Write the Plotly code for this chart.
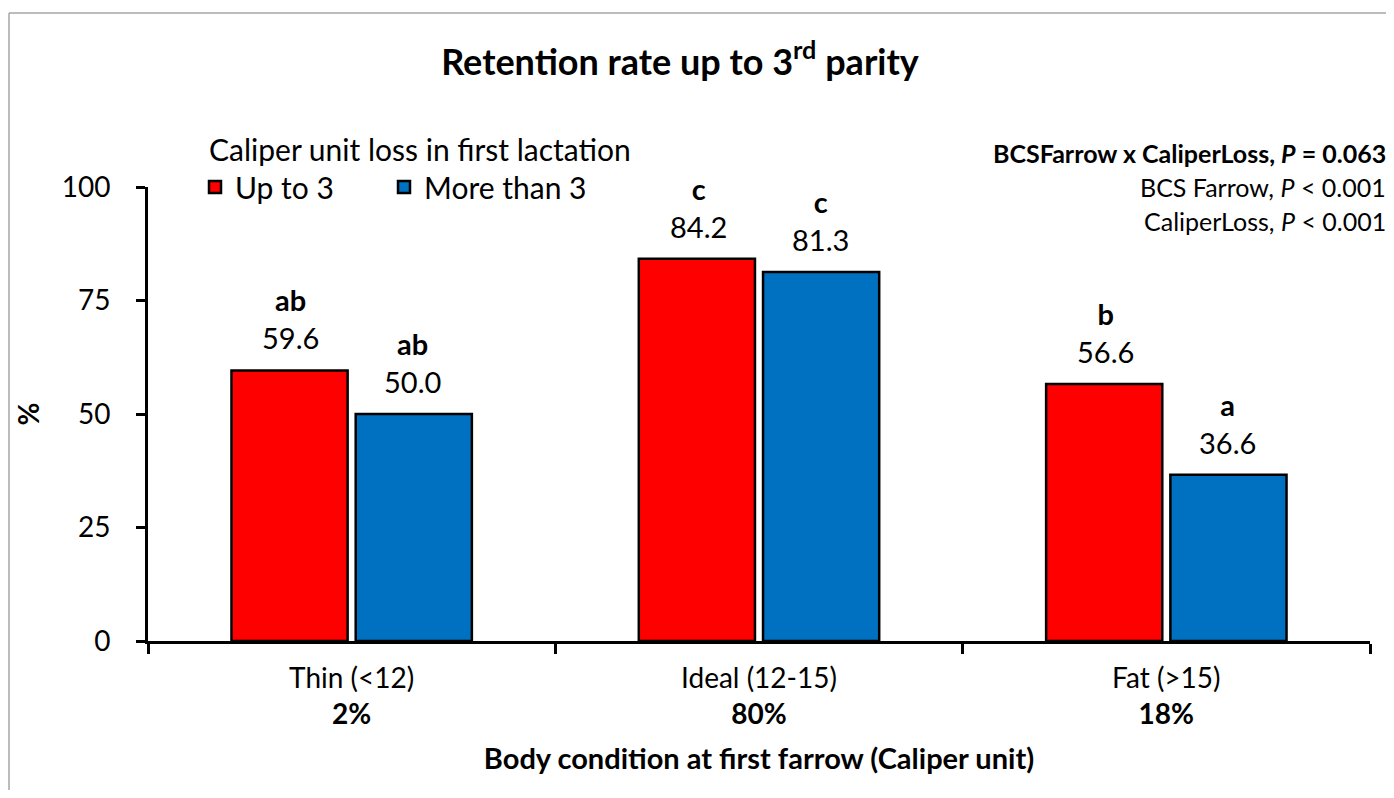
import plotly.graph_objects as go

categories = ["Thin (<12)", "Ideal (12-15)", "Fat (>15)"]
cat_share = ["2%", "80%", "18%"]
up_to_3 = [59.6, 84.2, 56.6]
more_than_3 = [50.0, 81.3, 36.6]
letters_up = ["ab", "c", "b"]
letters_more = ["ab", "c", "a"]

FONT = "Lato"
RED = "#FF0000"
BLUE = "#0070C0"

# page offset of the figure (body margin), page size
OFF = 8
PW, PH = 1394, 798
W, H = PW - 2 * OFF, PH - 2 * OFF

# plot area in page pixels
L, R, T, B = 148, 1370, 187, 641


def px_x(p):
    return (p - L) / (R - L)


def px_y(p):
    return (B - p) / (B - T)


tick_text = [f"{c}<br><b>{s}</b>" for c, s in zip(categories, cat_share)]

fig = go.Figure()
fig.add_trace(go.Bar(
    x=categories, y=up_to_3, name="Up to 3",
    marker=dict(color=RED, line=dict(color="black", width=2.5)),
))
fig.add_trace(go.Bar(
    x=categories, y=more_than_3, name="More than 3",
    marker=dict(color=BLUE, line=dict(color="black", width=2.5)),
))

# value + significance letters above bars
for series, letters, shift in [(up_to_3, letters_up, -61), (more_than_3, letters_more, 61)]:
    for cat, v, let in zip(categories, series, letters):
        fig.add_annotation(
            x=cat, y=v, xshift=shift, yshift=13, yanchor="bottom",
            text=f"<b>{let}</b><br>{v:.1f}", showarrow=False,
            font=dict(family=FONT, size=29, color="black"),
        )

stats = [
    "<b>BCSFarrow x CaliperLoss, <i>P</i> = 0.063</b>",
    "BCS Farrow, <i>P</i> < 0.001",
    "CaliperLoss, <i>P</i> < 0.001",
]
for i, s in enumerate(stats):
    fig.add_annotation(
        xref="paper", yref="paper", x=px_x(1388), y=px_y(153 + 34 * i),
        xanchor="right", yanchor="middle", text=s, showarrow=False,
        font=dict(family=FONT, size=25, color="black"),
    )

# outer frame: only top and left edges are visible in the page
frame = dict(color="#A6A6A6", width=1.5)
fig.add_shape(type="line", xref="paper", yref="paper",
              x0=px_x(9), x1=px_x(1400), y0=px_y(13), y1=px_y(13), line=frame)
fig.add_shape(type="line", xref="paper", yref="paper",
              x0=px_x(9), x1=px_x(9), y0=px_y(13), y1=px_y(810), line=frame)

fig.update_layout(
    width=W, height=H,
    margin=dict(l=L - OFF, r=PW - OFF - R, t=T - OFF, b=PH - OFF - B),
    paper_bgcolor="white", plot_bgcolor="white",
    font=dict(family=FONT, size=28, color="black"),
    barmode="group", bargap=0.39, bargroupgap=0.065,
    title=dict(
        text="<b>Retention rate up to 3<sup>rd</sup> parity</b>",
        x=(680 - OFF) / W, xref="container", xanchor="center",
        y=1 - (62 - OFF) / H, yref="container", yanchor="middle",
        font=dict(family=FONT, size=36, color="black"),
    ),
    legend=dict(
        orientation="h", x=px_x(207), y=px_y(122), xanchor="left", yanchor="top",
        title=dict(text="Caliper unit loss in first lactation", side="top",
                   font=dict(family=FONT, size=30)),
        font=dict(family=FONT, size=30), bgcolor="rgba(0,0,0,0)",
        itemwidth=30, entrywidth=156, entrywidthmode="pixels", tracegroupgap=0,
        indentation=-12,
    ),
    showlegend=True,
)

fig.update_xaxes(
    tickmode="array", tickvals=categories, ticktext=tick_text,
    tickson="boundaries", ticks="outside", ticklen=10, tickwidth=3, tickcolor="black",
    showline=True, linecolor="black", linewidth=3, showgrid=False,
    tickfont=dict(family=FONT, size=28), ticklabelstandoff=10,
    title=dict(text="<b>Body condition at first farrow (Caliper unit)</b>",
               font=dict(family=FONT, size=29), standoff=20),
)
fig.update_yaxes(
    range=[0, 100], tickvals=[0, 25, 50, 75, 100],
    ticks="outside", ticklen=9, tickwidth=3, tickcolor="black",
    showline=True, linecolor="black", linewidth=3, showgrid=False, zeroline=False,
    tickfont=dict(family=FONT, size=28), ticklabelstandoff=20,
    title=dict(text="<b>%</b>", font=dict(family=FONT, size=28), standoff=14),
)

fig.write_html("out.html")
